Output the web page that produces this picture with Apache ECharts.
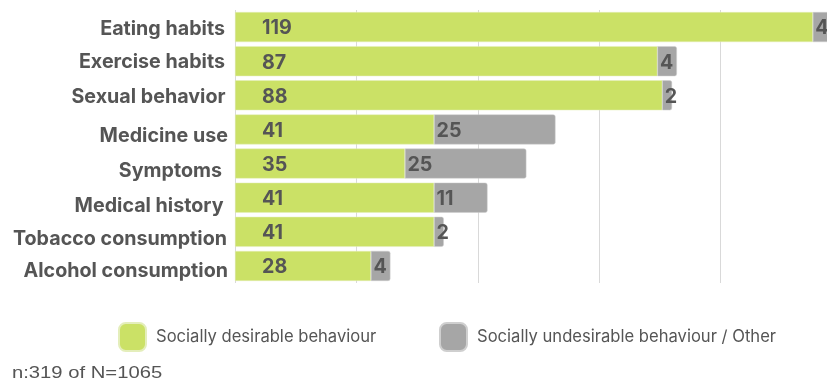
<!DOCTYPE html>
<html>
<head>
<meta charset="utf-8">
<script src="https://cdn.jsdelivr.net/npm/echarts@6/dist/echarts.min.js"></script>
<style>
  html, body { margin: 0; padding: 0; background: #ffffff; }
  #chart { width: 827px; height: 383px; }
</style>
</head>
<body>
<div id="chart"></div>
<script>
// Topics asked about, top to bottom
const categories = [
  'Eating habits',
  'Exercise habits',
  'Sexual behavior',
  'Medicine use',
  'Symptoms',
  'Medical history',
  'Tobacco consumption',
  'Alcohol consumption'
];
const desirable = [119, 87, 88, 41, 35, 41, 41, 28];
const undesirable = [4, 4, 2, 25, 25, 11, 2, 4];
const seriesNames = ['Socially desirable behaviour', 'Socially undesirable behaviour / Other'];
const footnote = 'n:319 of N=1065';

const GREEN = '#cbe166';
const GREY = '#a6a6a6';
const TEXT = '#555555';
const FONT = 'Inter';

// Small per-label shifts of the category names: [down, left] in px
const labelShift = [[2.5, 3], [0.5, 3], [1.5, 2.5], [6.5, 0], [7.5, 6], [8, 4.5], [7.5, 1], [5, 0]];

const richStyles = {};
labelShift.forEach(([dy, dx], i) => {
  richStyles['c' + i] = {
    color: TEXT,
    fontFamily: FONT,
    fontWeight: 'bold',
    fontSize: 19.7,
    padding: [dy > 0 ? 2 * dy : 0, dx, dy < 0 ? -2 * dy : 0, 0]
  };
});

const valueLabel = (distance) => ({
  show: true,
  position: 'insideLeft',
  distance: distance,
  offset: [0, 1.5],
  color: TEXT,
  fontFamily: FONT,
  fontWeight: 'bold',
  fontSize: 19.7
});

const chart = echarts.init(document.getElementById('chart'), null, { renderer: 'canvas' });

chart.setOption({
  animation: false,
  backgroundColor: '#ffffff',
  grid: { left: 235, width: 607, top: 10, height: 273, containLabel: false, outerBoundsMode: 'none' },
  xAxis: {
    type: 'value',
    min: 0,
    max: 125,
    interval: 25,
    axisLine: { show: false },
    axisTick: { show: false },
    axisLabel: { show: false },
    splitLine: { show: true, lineStyle: { color: '#d9d9d9', width: 1 } }
  },
  yAxis: {
    type: 'category',
    inverse: true,
    data: categories,
    axisLine: { show: false },
    axisTick: { show: false },
    axisLabel: {
      margin: 7,
      color: TEXT,
      fontFamily: FONT,
      fontWeight: 'bold',
      fontSize: 19.7,
      formatter: (value, index) => '{c' + index + '|' + value + '}',
      rich: richStyles
    }
  },
  legend: [
    {
      data: [seriesNames[0]],
      left: 113, top: 317,
      itemWidth: 27, itemHeight: 28,
      icon: 'roundRect',
      textStyle: { color: TEXT, fontFamily: FONT, fontSize: 16.6, padding: [0, 0, 0, 5] }
    },
    {
      data: [seriesNames[1]],
      left: 434, top: 317,
      itemWidth: 27, itemHeight: 28,
      icon: 'roundRect',
      textStyle: { color: TEXT, fontFamily: FONT, fontSize: 16.6, padding: [0, 0, 0, 5] }
    }
  ],
  series: [
    {
      name: seriesNames[0],
      type: 'bar',
      stack: 'total',
      data: desirable,
      barCategoryGap: '12%',
      itemStyle: { color: GREEN, borderColor: '#e4eebb', borderWidth: 0.5 },
      label: valueLabel(27)
    },
    {
      name: seriesNames[1],
      type: 'bar',
      stack: 'total',
      data: undesirable,
      barCategoryGap: '12%',
      itemStyle: { color: GREY, borderRadius: [0, 2, 2, 0], borderColor: '#cfcfcf', borderWidth: 0.5 },
      label: valueLabel(2.5)
    }
  ],
  graphic: [
    {
      type: 'text',
      x: 12,
      y: 373,
      scaleX: 1.19,
      style: {
        text: footnote,
        fill: TEXT,
        verticalAlign: 'middle',
        font: '17px "Liberation Sans", Arial, sans-serif'
      }
    }
  ]
});
</script>
</body>
</html>
